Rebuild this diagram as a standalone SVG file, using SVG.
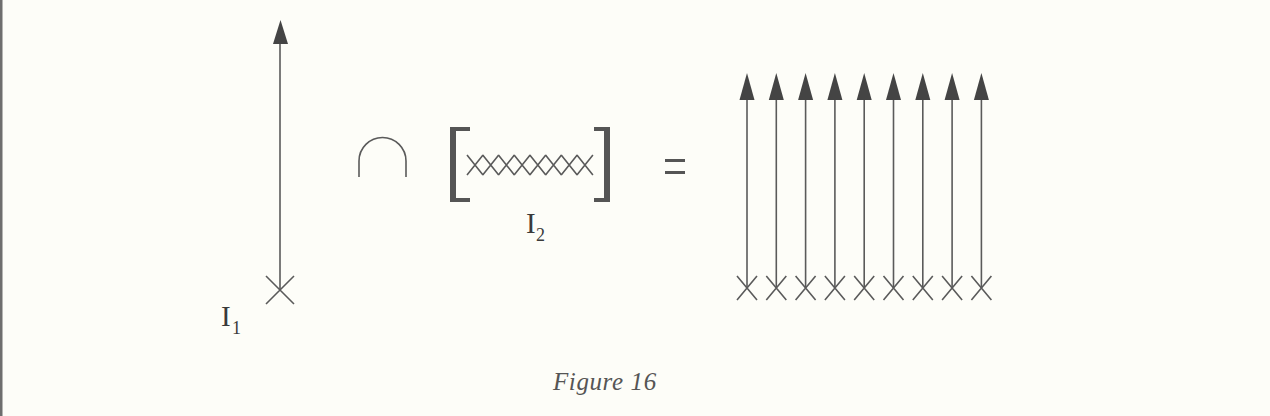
<svg xmlns="http://www.w3.org/2000/svg" width="1270" height="416" viewBox="0 0 1270 416">
  <defs>
    <style>
      .ln { stroke: #5a5a5a; stroke-width: 1.6; fill: none; }
      .xx { stroke: #5a5a5a; stroke-width: 1.6; fill: none; }
      .hd { fill: #444; }
      .br { fill: #555; }
      .lbl { font-family: "Liberation Serif", serif; fill: #3a3a3a; }
      .cap { font-family: "Liberation Serif", serif; font-style: italic; fill: #555; }
    </style>
    <path id="cross" d="M-10,-12 L10,12 M-10,12 L10,-12"/>
    <path id="head" d="M0,0 L-7.5,27 L7.5,27 Z"/>
    <path id="sx" d="M-8,-10 L8,10 M-8,10 L8,-10"/>
  </defs>
  <rect x="0" y="0" width="1270" height="416" fill="#fdfdf8"/>
  <rect x="0" y="0" width="2.5" height="416" fill="#6e6e6e"/>

  <g id="connectors">
    <line class="ln" x1="280" y1="40" x2="280" y2="290"/>
  </g>

  <g id="I1-arrow">
    <path class="hd" d="M280.5,20 L273,44 L288,44 Z"/>
    <path class="xx" d="M266,276 L294,304 M266,304 L294,276"/>
    <text class="lbl" x="221" y="326" font-size="29">I</text>
    <text class="lbl" x="232" y="334" font-size="18">1</text>
  </g>

  <g id="cap-symbol">
    <path class="ln" d="M359,177 V161 A23.5,23.5 0 0 1 406,161 V177" stroke-width="2"/>
  </g>

  <g id="I2-set">
    <path class="br" d="M450,127 H470 V131 H456 V198 H470 V202 H450 Z"/>
    <path class="br" d="M610,127 H594 V131 H604 V198 H594 V202 H610 Z"/>
    <g class="xx" stroke-width="1.5">
      <use href="#sx" x="475" y="165"/>
      <use href="#sx" x="490.7" y="165"/>
      <use href="#sx" x="506.4" y="165"/>
      <use href="#sx" x="522.1" y="165"/>
      <use href="#sx" x="537.8" y="165"/>
      <use href="#sx" x="553.5" y="165"/>
      <use href="#sx" x="569.2" y="165"/>
      <use href="#sx" x="584.9" y="165"/>
    </g>
    <text class="lbl" x="526" y="233" font-size="29">I</text>
    <text class="lbl" x="536" y="241" font-size="18">2</text>
  </g>

  <g id="equals">
    <rect x="665" y="159" width="20" height="3" fill="#555"/>
    <rect x="665" y="171" width="20" height="3" fill="#555"/>
  </g>

  <g id="result-arrows">
    <g class="ln">
      <line x1="747" y1="98" x2="747" y2="288"/>
      <line x1="776.3" y1="98" x2="776.3" y2="288"/>
      <line x1="805.6" y1="98" x2="805.6" y2="288"/>
      <line x1="834.9" y1="98" x2="834.9" y2="288"/>
      <line x1="864.2" y1="98" x2="864.2" y2="288"/>
      <line x1="893.5" y1="98" x2="893.5" y2="288"/>
      <line x1="922.8" y1="98" x2="922.8" y2="288"/>
      <line x1="952.1" y1="98" x2="952.1" y2="288"/>
      <line x1="981.4" y1="98" x2="981.4" y2="288"/>
    </g>
    <g class="hd">
      <use href="#head" x="747" y="73"/>
      <use href="#head" x="776.3" y="73"/>
      <use href="#head" x="805.6" y="73"/>
      <use href="#head" x="834.9" y="73"/>
      <use href="#head" x="864.2" y="73"/>
      <use href="#head" x="893.5" y="73"/>
      <use href="#head" x="922.8" y="73"/>
      <use href="#head" x="952.1" y="73"/>
      <use href="#head" x="981.4" y="73"/>
    </g>
    <g class="xx">
      <use href="#cross" x="747" y="288"/>
      <use href="#cross" x="776.3" y="288"/>
      <use href="#cross" x="805.6" y="288"/>
      <use href="#cross" x="834.9" y="288"/>
      <use href="#cross" x="864.2" y="288"/>
      <use href="#cross" x="893.5" y="288"/>
      <use href="#cross" x="922.8" y="288"/>
      <use href="#cross" x="952.1" y="288"/>
      <use href="#cross" x="981.4" y="288"/>
    </g>
  </g>

  <g id="caption">
    <text class="cap" x="553" y="390" font-size="25" letter-spacing="0.6">Figure 16</text>
  </g>
</svg>
